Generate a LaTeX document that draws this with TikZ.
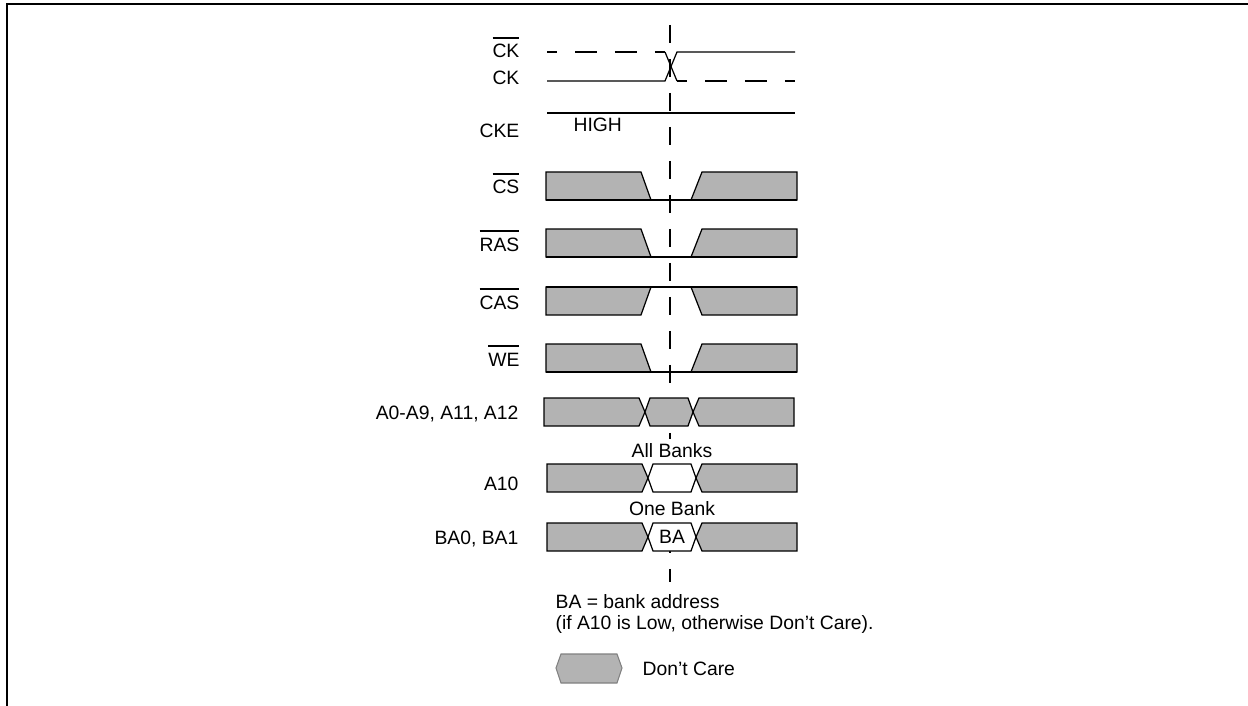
\documentclass[tikz,border=0pt]{standalone}
\usepackage{fontspec}
\setmainfont{Liberation Sans}
\usepackage{tikz}
\usetikzlibrary{positioning}
\definecolor{dcgray}{RGB}{179,179,179}

% active-low signal name with a bar over it
\newcommand{\negsig}[1]{\setbox0\hbox{#1}\rlap{\rule[\dimexpr\ht0+3.2pt\relax]{\wd0}{1pt}}\box0}
% bus row: #1 top y, #2 x shift, #3 fill of the middle part
\newcommand{\busrow}[3]{%
  \draw[dc] ({544+#2},#1) -- ({639+#2},#1) -- ({645+#2},{#1+14}) -- ({639+#2},{#1+28}) -- ({544+#2},{#1+28}) -- cycle;
  \draw[dc, fill=#3] ({645+#2},{#1+14}) -- ({650+#2},#1) -- ({688+#2},#1) -- ({693+#2},{#1+14}) -- ({688+#2},{#1+28}) -- ({650+#2},{#1+28}) -- cycle;
  \draw[dc] ({693+#2},{#1+14}) -- ({699+#2},#1) -- ({794+#2},#1) -- ({794+#2},{#1+28}) -- ({699+#2},{#1+28}) -- cycle;}

\begin{document}
\begin{tikzpicture}[x=0.02cm, y=-0.02cm, line width=0.7pt,
    sig/.style={anchor=base east, inner sep=0pt, font=\fontsize{11}{13}\selectfont},
    txt/.style={anchor=base, inner sep=2pt, fill=white, font=\fontsize{11}{13}\selectfont},
    note/.style={anchor=base west, inner sep=0pt, font=\fontsize{11}{13}\selectfont},
    dc/.style={fill=dcgray, draw=black},
    clkdash/.style={dash pattern=on 0.44cm off 0.36cm, dash phase=0.24cm}]

    \useasboundingbox (0,0) rectangle (1248,706);
    \draw[line width=0.8pt] (1248,4) -- (7,4) -- (7,706);

    % reference edge
    \draw[dash pattern=on 0.36cm off 0.32cm] (670,25) -- (670,582);

    % clock
    \node[sig] (ckn) at (520,58) {\negsig{CK}};
    \node[sig] (ck) at (520,85) {CK};
    \draw[clkdash] (547,52) -- (665,52);
    \draw (665,52) -- (677,81);
    \draw[clkdash] (677,81) -- (795,81);
    \draw (547,81) -- (665,81) -- (677,52) -- (795,52);

    \node[sig] (cke) at (520,137) {CKE};
    \node[note] (high) at (573,132) {HIGH};
    \draw (547,113) -- (795,113);

    % command signals
    \foreach \sig/\yt/\s in {CS/172/1, RAS/229/1, CAS/287/-1, WE/344/1}{
        \node[sig] (\sig) at (520,\yt+22) {\negsig{\sig}};
        \draw[dc] (546,\yt+28) -- (546,\yt) -- ({646-5*\s},\yt) -- ({646+5*\s},\yt+28) -- cycle;
        \draw[dc] (797,\yt+28) -- (797,\yt) -- ({696.5+5.5*\s},\yt) -- ({696.5-5.5*\s},\yt+28) -- cycle;
        \draw (546,{\yt+14+14*\s}) -- (797,{\yt+14+14*\s});
    }

    % address
    \node[sig] (addr) at (519,419) {A0-A9, A11, A12};
    \busrow{398}{0}{dcgray}
    \node[txt] (allbanks) at (672,457) {All Banks};
    \node[sig] (a10) at (519,490) {A10};
    \busrow{464}{3}{white}
    \node[txt] (onebank) at (672,515) {One Bank};
    \node[sig] (bank) at (519,544) {BA0, BA1};
    \busrow{523}{3}{white}
    \node[txt, fill=none, inner sep=0pt] (ba) at (672,543) {BA};

    \node[note] (note1) at (555,608) {BA = bank address};
    \node[note] (note2) at (555,629) {(if A10 is Low, otherwise Don’t Care).};

    % legend
    \draw[dc, draw=gray, line width=0.6pt] (556,668) -- (561,654) -- (617,654) -- (622,668) -- (617,683) -- (561,683) -- cycle;
    \node[note] (dontcare) at (642,675) {Don’t Care};
\end{tikzpicture}
\end{document}
